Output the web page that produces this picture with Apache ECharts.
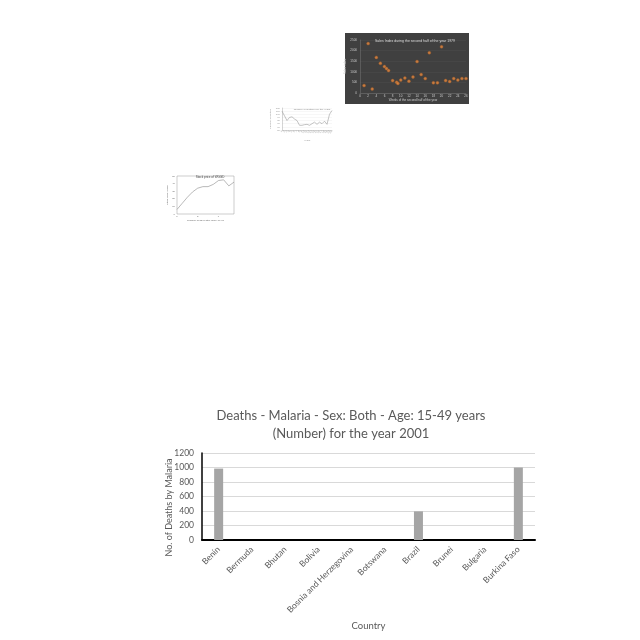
<!DOCTYPE html>
<html><head><meta charset="utf-8">
<script src="https://cdn.jsdelivr.net/npm/echarts@6/dist/echarts.min.js"></script>
<style>html,body{margin:0;padding:0;background:#fff}#c{width:640px;height:640px}</style>
</head><body><div id="c"></div>
<script>
// Main chart data
const countries = ['Benin','Bermuda','Bhutan','Bolivia','Bosnia and Herzegovina','Botswana','Brazil','Brunei','Bulgaria','Burkina Faso'];
const deaths = [985, 0, 0, 0, 0, 0, 395, 0, 0, 1000];
const yTicks = [0, 200, 400, 600, 800, 1000, 1200];

// Thumbnail: scatter (sales index)
const salesWeeks = [1, 2, 3, 4, 5, 6, 6.5, 7, 8, 9, 9.3, 10, 11, 12, 13, 14, 15, 16, 17, 18, 19, 20, 21, 22, 23, 24, 25, 26];
const salesIndex = [350, 2330, 190, 1680, 1400, 1250, 1150, 1060, 585, 510, 450, 610, 710, 560, 760, 1480, 870, 680, 1900, 480, 480, 2180, 590, 540, 680, 610, 680, 680];

// Thumbnail: small line chart
const thumbLineX = ['1','2','3','4','5','6','7','8','9','10','11','12','13','14','15','16','17','18','19','20','21'];
const thumbLineY = [110, 95, 80, 90, 92, 85, 80, 65, 65, 67, 68, 65, 70, 75, 68, 75, 70, 78, 68, 100, 112];

// Thumbnail: stock price
const stockX = ['1','2','3','4','5','6','7','8','9','10','11','12'];
const stockY = [6, 14, 22, 29, 34, 36, 36, 39, 44, 45, 37, 42];

const chart = echarts.init(document.getElementById('c'));
const gray = '#595959';
const FONT = 'Lato';
chart.setOption({
  animation: false,
  graphic: [
    {type: 'rect', shape: {x: 345, y: 33, width: 124, height: 71}, style: {fill: '#404040'}, z: -10}
  ],
  title: [
    {text: 'Deaths - Malaria - Sex: Both - Age: 15-49 years\n(Number) for the year 2001', left: 346, textAlign: 'center', top: 402,
     textStyle: {fontFamily: FONT, fontSize: 13, fontWeight: 'normal', color: gray, lineHeight: 18}},
    {text: 'Sales Index during the second half of the year 1979', left: 410, textAlign: 'center', top: 34,
     textStyle: {fontSize: 3.5, fontWeight: 'normal', color: '#dddddd'}},
    {text: 'Number of deaths over the years', left: 307, textAlign: 'center', top: 103,
     textStyle: {fontSize: 2.5, fontWeight: 'normal', color: '#888'}},
    {text: 'Stock price of WGGD', left: 205, textAlign: 'center', top: 171,
     textStyle: {fontSize: 3, fontWeight: 'normal', color: '#444'}}
  ],
  grid: [
    {left: 202, right: 105, top: 453, bottom: 100},
    {left: 360, right: 174, top: 40, bottom: 547},
    {left: 282, right: 308, top: 108, bottom: 510},
    {left: 177, right: 406, top: 176, bottom: 426, show: true, borderColor: '#999', borderWidth: 0.5}
  ],
  xAxis: [
    {gridIndex: 0, type: 'category', data: countries, name: 'Country', nameLocation: 'middle', nameGap: 81,
     nameTextStyle: {fontFamily: FONT, fontSize: 9.5, color: gray},
     axisLine: {lineStyle: {color: '#000', width: 2}}, axisTick: {show: false},
     axisLabel: {rotate: 45, fontFamily: FONT, fontSize: 8.5, color: gray, interval: 0, margin: 8}},
    {gridIndex: 1, type: 'value', min: 0, max: 26, interval: 2,
     name: 'Weeks of the second half of the year', nameLocation: 'middle', nameGap: 6, nameTextStyle: {fontSize: 3, color: '#ccc'},
     axisLine: {lineStyle: {color: '#777', width: 0.5}}, axisTick: {show: false}, splitLine: {show: false},
     axisLabel: {fontSize: 3, color: '#ccc', margin: 2}},
    {gridIndex: 2, type: 'category', data: thumbLineX, boundaryGap: false,
     name: 'Years', nameLocation: 'middle', nameGap: 9, nameTextStyle: {fontSize: 2.5, color: '#999'},
     axisLine: {lineStyle: {color: '#aaa', width: 0.5}}, axisTick: {show: false},
     axisLabel: {rotate: 45, fontSize: 2.5, color: '#999', margin: 1, interval: 0}},
    {gridIndex: 3, type: 'category', data: stockX, boundaryGap: false,
     name: 'Number of days after 2017-10-01', nameLocation: 'middle', nameGap: 5, nameTextStyle: {fontSize: 2.5, color: '#666'},
     axisLine: {show: false}, axisTick: {show: false},
     axisLabel: {fontSize: 2.5, color: '#666', margin: 1, interval: 3}}
  ],
  yAxis: [
    {gridIndex: 0, type: 'value', min: yTicks[0], max: yTicks[yTicks.length - 1], interval: yTicks[1] - yTicks[0],
     name: 'No. of Deaths by Malaria', nameLocation: 'middle', nameGap: 28, nameMoveOverlap: false,
     nameTextStyle: {fontFamily: FONT, fontSize: 9, color: gray, padding: [0, 22, 0, 0]},
     axisLine: {show: true, lineStyle: {color: '#000', width: 1.5}}, axisTick: {show: false},
     splitLine: {lineStyle: {color: '#d9d9d9', width: 1}},
     axisLabel: {fontFamily: FONT, fontSize: 8.5, color: gray, margin: 8, formatter: v => String(v)}},
    {gridIndex: 1, type: 'value', min: 0, max: 2500, interval: 500,
     name: 'Sales index', nameLocation: 'middle', nameGap: 10, nameTextStyle: {fontSize: 3, color: '#ccc'},
     axisLine: {show: true, lineStyle: {color: '#777', width: 0.5}}, axisTick: {show: false},
     splitLine: {show: true, lineStyle: {color: '#4c4c4c', width: 0.5}},
     axisLabel: {fontSize: 3, color: '#ccc', margin: 3, formatter: v => String(v)}},
    {gridIndex: 2, type: 'value', min: 50, max: 120, interval: 10,
     name: 'Number of deaths', nameLocation: 'middle', nameGap: 8, nameTextStyle: {fontSize: 2.5, color: '#999'},
     axisLine: {show: true, lineStyle: {color: '#aaa', width: 0.5}}, axisTick: {show: false},
     splitLine: {show: true, lineStyle: {color: '#eee', width: 0.5}},
     axisLabel: {fontSize: 2.5, color: '#999', margin: 2}},
    {gridIndex: 3, type: 'value', min: 0, max: 50, interval: 10,
     name: 'Stock price (USD)', nameLocation: 'middle', nameGap: 7, nameTextStyle: {fontSize: 2.5, color: '#666'},
     axisLine: {show: false}, axisTick: {show: false}, splitLine: {show: false},
     axisLabel: {fontSize: 2.5, color: '#666', margin: 2}}
  ],
  series: [
    {type: 'bar', xAxisIndex: 0, yAxisIndex: 0, data: deaths, barWidth: 9, itemStyle: {color: '#a5a5a5'}},
    {type: 'scatter', xAxisIndex: 1, yAxisIndex: 1, data: salesWeeks.map((w, i) => [w, salesIndex[i]]),
     symbolSize: 3, itemStyle: {color: '#e8893f', borderColor: '#9a5a2a', borderWidth: 0.5}},
    {type: 'line', xAxisIndex: 2, yAxisIndex: 2, data: thumbLineY, showSymbol: false,
     lineStyle: {color: '#9a9a9a', width: 0.6}},
    {type: 'line', xAxisIndex: 3, yAxisIndex: 3, data: stockY, showSymbol: false,
     lineStyle: {color: '#8a8a8a', width: 0.6}}
  ]
});
</script></body></html>
